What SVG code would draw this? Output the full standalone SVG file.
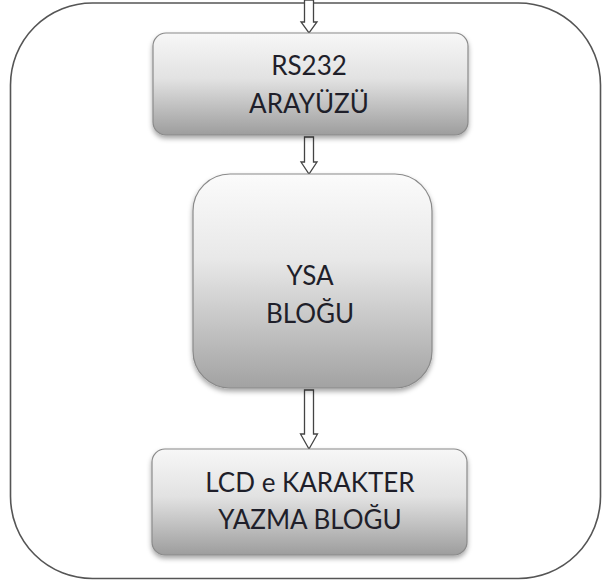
<svg xmlns="http://www.w3.org/2000/svg" width="603" height="585" viewBox="0 0 603 585">
  <style>
    .frame { fill: none; stroke: #555; stroke-width: 1.6; }
    .box { stroke: #8a8a8a; stroke-width: 1.2; filter: url(#shadow); }
    .label { font-family: Lato, "Open Sans", "Liberation Sans", sans-serif; font-size: 26px; fill: #1f1f2a; text-anchor: middle; }
    .arrow { fill: #fff; stroke: #444; stroke-width: 1.3; stroke-linejoin: miter; }
  </style>
  <defs>
    <linearGradient id="gFlat" x1="0" y1="0" x2="0" y2="1">
      <stop offset="0" stop-color="#f7f7f7"/>
      <stop offset="0.45" stop-color="#e2e2e2"/>
      <stop offset="1" stop-color="#9d9d9d"/>
    </linearGradient>
    <linearGradient id="gTall" x1="0" y1="0" x2="0" y2="1">
      <stop offset="0" stop-color="#fbfbfb"/>
      <stop offset="0.4" stop-color="#e8e8e8"/>
      <stop offset="1" stop-color="#a2a2a2"/>
    </linearGradient>
    <filter id="shadow" x="-10%" y="-10%" width="120%" height="130%">
      <feDropShadow dx="0" dy="3" stdDeviation="2.5" flood-color="#000" flood-opacity="0.35"/>
    </filter>
  </defs>

  <rect class="frame" x="10.5" y="3" width="590" height="575.5" rx="82" ry="82"/>

  <g id="connectors">
    <polygon class="arrow" points="304.5,0 313.5,0 313.5,22 317,22 309,33 301,22 304.5,22"/>
    <polygon class="arrow" points="304.5,137 313.5,137 313.5,162 317,162 309,174 301,162 304.5,162"/>
    <polygon class="arrow" points="304.5,390 313.5,390 313.5,434 317.5,434 309,449 300.5,434 304.5,434"/>
  </g>

  <g id="rs232">
    <rect class="box" x="153" y="33" width="315" height="102" rx="13" ry="13" fill="url(#gFlat)"/>
    <text class="label" x="309" y="75">RS232</text>
    <text class="label" x="309" y="113">ARAYÜZÜ</text>
  </g>

  <g id="ysa">
    <rect class="box" x="193" y="174" width="239" height="214" rx="37" ry="37" fill="url(#gTall)"/>
    <text class="label" x="310" y="285">YSA</text>
    <text class="label" x="310" y="323">BLOĞU</text>
  </g>

  <g id="lcd">
    <rect class="box" x="152" y="449" width="315" height="106" rx="13" ry="13" fill="url(#gFlat)"/>
    <text class="label" x="310" y="492">LCD e KARAKTER</text>
    <text class="label" x="310" y="529">YAZMA BLOĞU</text>
  </g>
</svg>
